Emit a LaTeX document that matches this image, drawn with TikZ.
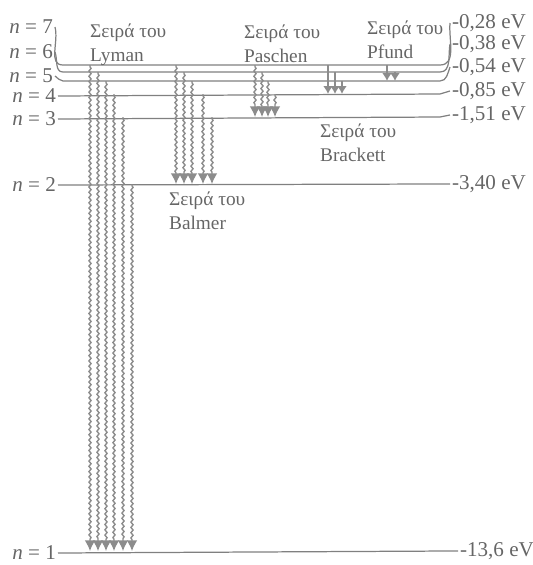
\documentclass[tikz,border=0pt]{standalone}
\usepackage{fontspec}
\setmainfont{Liberation Serif}
\usepackage{tikz}
\usetikzlibrary{arrows.meta, decorations.pathmorphing}

\begin{document}
\begin{tikzpicture}[
    x=0.02cm, y=-0.02cm,
    level/.style={draw=black!50, line width=0.7pt},
    nlbl/.style={font=\fontsize{12}{14}\selectfont, text=black!60, inner sep=1pt},
    elbl/.style={font=\fontsize{12}{14}\selectfont, text=black!60, inner sep=1pt, anchor=west},
    series/.style={font=\fontsize{11}{13.5}\selectfont, text=black!60, align=left,
                   inner sep=1pt, anchor=west},
    trans/.style={draw=black!45, line width=0.8pt, -{Latex[length=6pt,width=6pt]},
                  decorate, decoration={snake, amplitude=0.6pt, segment length=3pt,
                  pre length=1pt, post length=6pt}},
    shorttrans/.style={draw=black!45, line width=0.8pt, -{Latex[length=4.5pt,width=5.5pt]}}
  ]
    \useasboundingbox (0,0) rectangle (532,565);

    \foreach \n/\y in {1/551, 2/184, 3/117, 4/94, 5/81, 6/72, 7/65} {
      \coordinate (L\n) at (63,\y);
      \coordinate (R\n) at (440,\y);
    }
    \coordinate (R1) at (450,551);

    \node[nlbl, anchor=east] (n1) at (58,553) {\textit{n} = 1};
    \node[nlbl, anchor=east] (n2) at (58,185) {\textit{n} = 2};
    \node[nlbl, anchor=east] (n3) at (58,119) {\textit{n} = 3};
    \node[nlbl, anchor=east] (n4) at (58,96)  {\textit{n} = 4};
    \node[nlbl, anchor=east] (n5) at (55,76)  {\textit{n} = 5};
    \node[nlbl, anchor=east] (n6) at (55,52)  {\textit{n} = 6};
    \node[nlbl, anchor=east] (n7) at (55,27)  {\textit{n} = 7};

    \node[elbl] (e1) at (458,551) {-13,6 eV};
    \node[elbl] (e2) at (450,184) {-3,40 eV};
    \node[elbl] (e3) at (450,115) {-1,51 eV};
    \node[elbl] (e4) at (450,91)  {-0,85 eV};
    \node[elbl] (e5) at (450,67)  {-0,54 eV};
    \node[elbl] (e6) at (450,44)  {-0,38 eV};
    \node[elbl] (e7) at (450,23)  {-0,28 eV};

    \draw[level] (n1.east) -- (R1) -- (e1.west);
    \draw[level] (n2.east) -- (R2) -- (e2.west);
    \draw[level] (n3.east) -- (R3) -- (e3.west);
    \draw[level] (n4.east) -- (R4) -- (e4.west);
    \draw[level] (n5.east) to[out=-30,in=180] (L5) -- (R5) to[out=0,in=-110] (e5.west);
    \draw[level] (n6.east) to[out=-70,in=180] (L6) -- (R6) to[out=0,in=-100] (e6.west);
    \draw[level] (n7.east) to[out=-75,in=180] (L7) -- (R7) to[out=0,in=-95] (e7.west);

    \node[series] (lyman)    at (88,45)  {Σειρά του\\Lyman};
    \node[series] (paschen)  at (242,44) {Σειρά του\\Paschen};
    \node[series] (pfund)    at (365,40) {Σειρά του\\Pfund};
    \node[series] (brackett) at (318,143) {Σειρά του\\Brackett};
    \node[series] (balmer)   at (167,211) {Σειρά του\\Balmer};

    \foreach \x/\a/\b in {90/7/1, 98/6/1, 106/5/1, 114/4/1, 123/3/1, 132/2/1,
                          176/7/2, 184/6/2, 192/5/2, 203/4/2, 212/3/2,
                          255/7/3, 262/6/3, 268/5/3, 275/4/3}
      \draw[trans] (\x,0 |- L\a) -- (\x,0 |- L\b);
    \foreach \x/\a/\b in {328/7/4, 335/6/4, 342/5/4, 387/7/5, 395/6/5}
      \draw[shorttrans] (\x,0 |- L\a) -- (\x,0 |- L\b);
  \end{tikzpicture}
\end{document}
